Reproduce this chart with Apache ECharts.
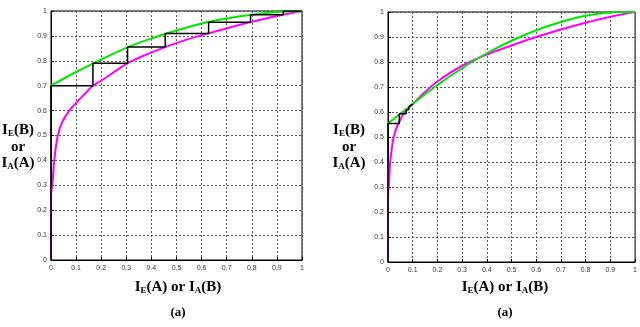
<!DOCTYPE html>
<html>
<head>
<meta charset="utf-8">
<script src="https://cdn.jsdelivr.net/npm/echarts@6/dist/echarts.min.js"></script>
<style>
  html, body { margin: 0; padding: 0; background: #fff; }
  #main { width: 640px; height: 327px; }
</style>
</head>
<body>
<div id="main"></div>
<script>
var chartDom = document.getElementById('main');
var myChart = echarts.init(chartDom);
var option;

// tick labels (0, 0.1, ... 1)
const tickStep = 0.1;

// left panel (a) - [x, y] points
const leftGreen = [
    [0, 0.70], [0.1, 0.755], [0.2, 0.805], [0.3, 0.852], [0.4, 0.89],
    [0.5, 0.922], [0.6, 0.95], [0.7, 0.97], [0.8, 0.985], [0.9, 0.996], [1, 1]
];
const leftMagenta = [
    [0, 0], [0, 0.253], [0.002, 0.28], [0.005, 0.3], [0.009, 0.35], [0.013, 0.4],
    [0.019, 0.45], [0.027, 0.5], [0.043, 0.55], [0.073, 0.6], [0.095, 0.625],
    [0.118, 0.65], [0.142, 0.675], [0.167, 0.70], [0.2, 0.72], [0.24, 0.747],
    [0.305, 0.79], [0.38, 0.825], [0.455, 0.855], [0.54, 0.885], [0.628, 0.91],
    [0.71, 0.933], [0.795, 0.955], [0.86, 0.971], [0.925, 0.985], [1, 1]
];
const leftStairs = [
    [0, 0], [0, 0.70], [0.167, 0.70], [0.167, 0.79], [0.305, 0.79],
    [0.305, 0.855], [0.455, 0.855], [0.455, 0.91], [0.628, 0.91],
    [0.628, 0.955], [0.795, 0.955], [0.795, 0.985], [0.925, 0.985],
    [0.925, 1], [1, 1]
];

// right panel (a)
const rightGreen = [
    [0, 0.554], [0.1, 0.632], [0.2, 0.708], [0.3, 0.775], [0.4, 0.835],
    [0.5, 0.885], [0.6, 0.927], [0.7, 0.96], [0.8, 0.985], [0.9, 0.998], [1, 1]
];
const rightMagenta = [
    [0, 0], [0, 0.262], [0.001, 0.28], [0.003, 0.3], [0.006, 0.35], [0.009, 0.4],
    [0.015, 0.45], [0.023, 0.5], [0.04, 0.55], [0.068, 0.6], [0.1, 0.632],
    [0.15, 0.68], [0.2, 0.722], [0.3, 0.785], [0.4, 0.83], [0.5, 0.866],
    [0.6, 0.9], [0.7, 0.93], [0.8, 0.957], [0.9, 0.981], [1, 1]
];
const rightStairs = [
    [0, 0], [0, 0.554], [0.046, 0.554], [0.046, 0.593], [0.074, 0.593],
    [0.074, 0.609], [0.084, 0.609], [0.084, 0.62], [0.1, 0.632]
];

const serif = '"Liberation Serif", "DejaVu Serif", serif';
const mainRich = {
    m: { fontFamily: serif, fontWeight: 'bold', fontSize: 15, lineHeight: 17, color: '#000' },
    s: { fontFamily: serif, fontWeight: 'bold', fontSize: 9, lineHeight: 17, color: '#000', padding: [8, 0, 0, 0] }
};

function makeAxis(gridIndex, isY) {
    return {
        type: 'value',
        gridIndex: gridIndex,
        min: 0,
        max: 1,
        interval: tickStep,
        axisLine: { show: true, lineStyle: { color: '#000', width: 1 } },
        axisTick: { show: true, inside: true, length: 3, lineStyle: { color: '#000' } },
        axisLabel: {
            fontSize: 7,
            color: '#333',
            fontFamily: 'Arial, "Liberation Sans", sans-serif',
            margin: isY ? 4 : 5,
            formatter: function (v) { return v === 0 || v === 1 ? String(v) : v.toFixed(1); }
        },
        splitLine: { show: true, lineStyle: { color: '#555', type: [2, 2], width: 1 } }
    };
}

function lineSeries(data, idx, color, width, smooth) {
    return {
        type: 'line',
        xAxisIndex: idx,
        yAxisIndex: idx,
        data: data,
        smooth: smooth,
        showSymbol: false,
        symbol: 'none',
        lineStyle: { color: color, width: width },
        animation: false
    };
}

function yLabel(cx) {
    return [
        { type: 'text', x: cx, y: 130, style: { text: '{m|I}{s|E}{m|(B)}', rich: mainRich, align: 'center', verticalAlign: 'middle' } },
        { type: 'text', x: cx, y: 147, style: { text: '{m|or}', rich: mainRich, align: 'center', verticalAlign: 'middle' } },
        { type: 'text', x: cx, y: 163, style: { text: '{m|I}{s|A}{m|(A)}', rich: mainRich, align: 'center', verticalAlign: 'middle' } }
    ];
}

function xLabel(cx) {
    return [
        { type: 'text', x: cx, y: 287, style: { text: '{m|I}{s|E}{m|(A) or I}{s|A}{m|(B)}', rich: mainRich, align: 'center', verticalAlign: 'middle' } },
        { type: 'text', x: cx, y: 313, style: { text: '{m|(a)}', rich: { m: { fontFamily: serif, fontWeight: 'bold', fontSize: 13, color: '#000' } }, align: 'center', verticalAlign: 'middle' } }
    ];
}

option = {
    backgroundColor: '#fff',
    animation: false,
    grid: [
        { left: 51, top: 11, width: 251, height: 249, show: true, borderColor: '#000', borderWidth: 1, backgroundColor: 'transparent' },
        { left: 388, top: 12, width: 250, height: 250, show: true, borderColor: '#000', borderWidth: 1, backgroundColor: 'transparent' }
    ],
    xAxis: [makeAxis(0, false), makeAxis(1, false)],
    yAxis: [makeAxis(0, true), makeAxis(1, true)],
    series: [
        lineSeries(leftMagenta, 0, '#ff00ff', 2, 0.35),
        lineSeries(leftGreen, 0, '#00e600', 2, 0.3),
        lineSeries(leftStairs, 0, '#000', 1.5, false),
        lineSeries(rightMagenta, 1, '#ff00ff', 2, 0.35),
        lineSeries(rightGreen, 1, '#00e600', 2, 0.3),
        lineSeries(rightStairs, 1, '#000', 1.5, false)
    ],
    graphic: {
        elements: [].concat(yLabel(18), yLabel(349), xLabel(178), xLabel(505))
    }
};

myChart.setOption(option);
</script>
</body>
</html>
